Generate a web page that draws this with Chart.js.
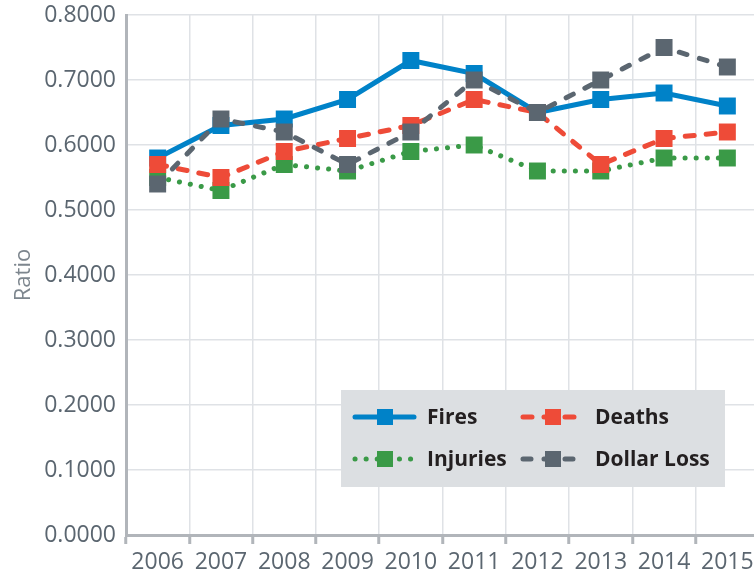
<!DOCTYPE html>
<html>
<head>
<meta charset="utf-8">
<script src="https://cdn.jsdelivr.net/npm/chart.js@4"></script>
<style>
  html, body { margin: 0; padding: 0; background: #fff; overflow: hidden; }
  /* plot runs a little past the right edge, like the original */
  #wrap { width: 771px; height: 575px; }
</style>
</head>
<body>
<div id="wrap"><canvas id="ratioChart"></canvas></div>
<script>
// values
const years = ['2006', '2007', '2008', '2009', '2010', '2011', '2012', '2013', '2014', '2015'];
const fires = [0.58, 0.63, 0.64, 0.67, 0.73, 0.71, 0.65, 0.67, 0.68, 0.66];
const deaths = [0.57, 0.55, 0.59, 0.61, 0.63, 0.67, 0.65, 0.57, 0.61, 0.62];
const injuries = [0.55, 0.53, 0.57, 0.56, 0.59, 0.60, 0.56, 0.56, 0.58, 0.58];
const dollarLoss = [0.54, 0.64, 0.62, 0.57, 0.62, 0.70, 0.65, 0.70, 0.75, 0.72];

const tickGray = '#5b6670';
const gridGray = '#dfe2e6';
const axisGray = '#b1b5ba';

function series(label, data, color, dash, order) {
    return {
        label: label,
        data: data,
        borderColor: color,
        backgroundColor: color,
        borderWidth: 5,
        borderDash: dash,
        borderCapStyle: 'round',
        tension: 0,
        pointStyle: 'rect',
        pointRadius: 12,
        pointHoverRadius: 12,
        pointBorderWidth: 0,
        order: order
    };
}

// legend drawn in the plot, two columns like the original
const boxLegend = {
    id: 'boxLegend',
    afterDraw(chart) {
        const ctx = chart.ctx;
        const area = chart.chartArea;
        const w = 384, h = 97;
        const x0 = area.right - 34 - w;
        const y0 = area.bottom - 48 - h;
        ctx.save();
        ctx.fillStyle = '#dcdfe2';
        ctx.fillRect(x0, y0, w, h);
        const slots = [[0, 0], [1, 0], [0, 1], [1, 1]]; // Fires, Deaths / Injuries, Dollar Loss
        const ds = chart.data.datasets;
        ds.forEach((d, i) => {
            const cx = x0 + 14 + slots[i][0] * 168;
            const cy = y0 + 27 + slots[i][1] * 42;
            ctx.strokeStyle = d.borderColor;
            ctx.lineWidth = 5;
            ctx.lineCap = 'round';
            ctx.setLineDash(d.borderDash || []);
            ctx.beginPath();
            ctx.moveTo(cx, cy);
            ctx.lineTo(cx + 59, cy);
            ctx.stroke();
            ctx.setLineDash([]);
            ctx.fillStyle = d.borderColor;
            ctx.fillRect(cx + 22, cy - 8, 16, 16);
            ctx.fillStyle = '#231f20';
            ctx.font = 'bold 21px "Open Sans"';
            ctx.textBaseline = 'middle';
            ctx.fillText(d.label, cx + 72, cy + 1);
        });
        ctx.restore();
    }
};

const ctx = document.getElementById('ratioChart').getContext('2d');
const ratioChart = new Chart(ctx, {
    type: 'line',
    data: {
        labels: years,
        datasets: [
            series('Fires', fires, '#0082c8', [], 3),
            series('Deaths', deaths, '#ee4b38', [9, 12], 1),
            series('Injuries', injuries, '#3a9a47', [0.1, 11], 2),
            series('Dollar Loss', dollarLoss, '#5b6670', [8, 13], 0)
        ]
    },
    options: {
        responsive: true,
        maintainAspectRatio: false,
        animation: false,
        layout: { padding: { top: 0, left: 6, right: 0, bottom: 0 } },
        plugins: {
            legend: { display: false },
            tooltip: { enabled: false }
        },
        scales: {
            x: {
                offset: true,
                grid: {
                    offset: true,
                    color: gridGray,
                    lineWidth: 1.5,
                    tickLength: 9,
                    tickColor: axisGray,
                    tickWidth: 3
                },
                border: { color: axisGray, width: 3 },
                ticks: {
                    color: tickGray,
                    padding: 6,
                    maxRotation: 0,
                    autoSkip: false,
                    font: { family: 'Open Sans', size: 23, lineHeight: 1.05 }
                },
                afterFit: s => { s.paddingLeft = 0; s.paddingRight = 0; s.height = 40; }
            },
            y: {
                min: 0,
                max: 0.8,
                grid: { color: gridGray, lineWidth: 1.5, drawTicks: false },
                border: { color: axisGray, width: 3 },
                title: {
                    display: true,
                    text: 'Ratio',
                    color: '#7d868e',
                    padding: { top: 5, bottom: 4 },
                    font: { family: 'Open Sans', size: 22 }
                },
                ticks: {
                    stepSize: 0.1,
                    color: tickGray,
                    padding: 10,
                    font: { family: 'Open Sans', size: 23 },
                    callback: v => v.toFixed(4)
                },
                afterFit: s => { s.paddingTop = 15; s.width = 120; }
            }
        }
    },
    plugins: [boxLegend]
});
</script>
</body>
</html>
